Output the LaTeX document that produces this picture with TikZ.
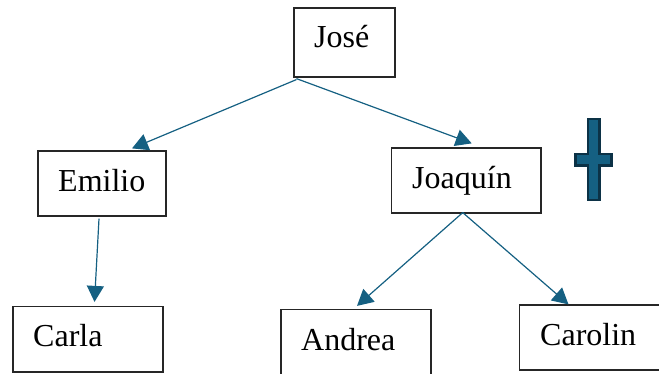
\documentclass[tikz,border=0pt]{standalone}
\usepackage{fontspec}
\setmainfont{Liberation Serif}
\usetikzlibrary{arrows.meta}
\definecolor{linkblue}{HTML}{156082}
\definecolor{crossedge}{HTML}{0C3246}
\begin{document}
\begin{tikzpicture}[
x=1pt,
y=-1pt,
person/.style={
  rectangle,
  draw=black!85,
  fill=white,
  line width=1.2pt,
  inner sep=0pt
},
persontext/.style={
  anchor=base west,
  inner sep=0pt,
  font=\fontsize{32}{36}\selectfont
},
link/.style={
  linkblue,
  line width=1.2pt,
  -{Triangle[width=17pt,length=16pt]}
},
crossmark/.style={
  draw=crossedge,
  fill=linkblue,
  line width=2.2pt
}
]

\clip (0,0) rectangle (659,374);

\node (jose) at (344.5,42.5) [person,minimum width=101pt,minimum height=69pt] {};
\node (emilio) at (102,183.5) [person,minimum width=128pt,minimum height=65pt] {};
\node (joaquin) at (466.25,180.5) [person,minimum width=149.5pt,minimum height=65pt] {};
\node (carla) at (88,339.25) [person,minimum width=150pt,minimum height=65.5pt] {};
\node (andrea) at (356,343) [person,minimum width=150pt,minimum height=67pt] {};
\node (carolin) at (594.5,337.5) [person,minimum width=150pt,minimum height=65pt] {};

\node (josetext) at (314,48) [persontext] {José};
\node (emiliotext) at (58,192) [persontext] {Emilio};
\node (joaquintext) at (412,189) [persontext] {Joaquín};
\node (carlatext) at (33,346) [persontext] {Carla};
\node (andreatext) at (301,350.5) [persontext] {Andrea};
\node (carolintext) at (540,345) [persontext] {Carolin};

\draw [link] ([xshift=3pt,yshift=-2pt]jose.south west) to ([xshift=30pt,yshift=2pt]emilio.north);
\draw [link] ([xshift=3pt,yshift=-1pt]jose.south west) to ([xshift=5.5pt,yshift=4pt]joaquin.north);
\draw [link] ([xshift=-3pt,yshift=-2pt]emilio.south) to ([xshift=6.5pt,yshift=4pt]carla.north);
\draw [link] ([xshift=-3.5pt,yshift=1pt]joaquin.south) to ([xshift=1pt,yshift=3pt]andrea.north);
\draw [link] ([xshift=-3.5pt,yshift=1pt]joaquin.south) to ([xshift=-26pt]carolin.north);

\draw [crossmark] (588,119) -- (599.5,119) -- (599.5,154) -- (611.5,154) -- (611.5,165.5) -- (599.5,165.5)
  -- (599.5,200) -- (588,200) -- (588,165.5) -- (575.5,165.5) -- (575.5,154) -- (588,154) -- cycle;

\end{tikzpicture}
\end{document}
